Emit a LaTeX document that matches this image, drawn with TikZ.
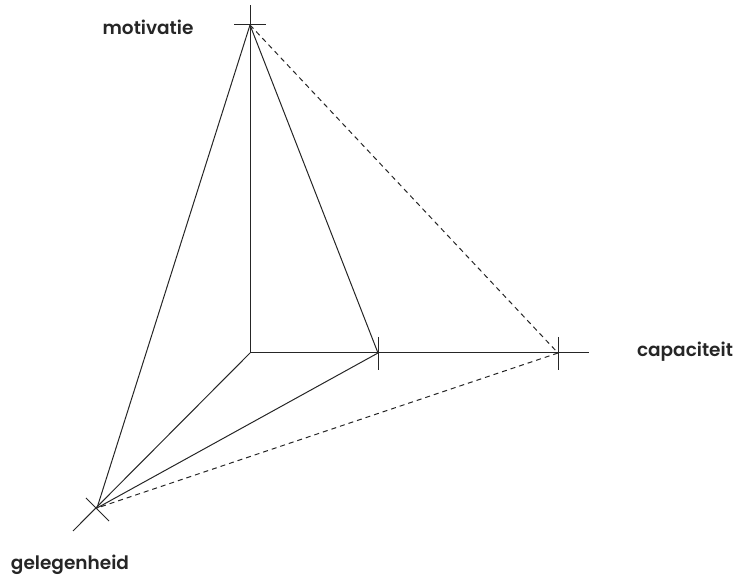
\documentclass[tikz,border=0pt]{standalone}
\usepackage{fontspec}
\setmainfont{Poppins}[BoldFont={* SemiBold}]
\begin{document}
\begin{tikzpicture}[x=1pt,y=-1pt,line width=1pt,color=black!85,
  lbl/.style={font=\bfseries\fontsize{18.5}{20}\selectfont,inner sep=0pt}]
  \useasboundingbox (0,0) rectangle (740,577);
  \coordinate (O) at (250,353);
  \coordinate (M) at (250,25);
  \coordinate (C1) at (378,353);
  \coordinate (C2) at (558,353);
  \coordinate (G) at (97,508);
  \coordinate (Mend) at (250,5);
  \coordinate (Cend) at (589,353);
  \coordinate (Gend) at (73,531);
  % axes
  \draw (O) -- (Mend);
  \draw (O) -- (Cend);
  \draw (O) -- (Gend);
  % ticks
  \draw (M) ++(-16,0) -- ++(32,0);
  \foreach \c in {C1,C2}{\draw (\c) ++(0,-16) -- ++(0,33);}
  \draw (G) ++(-11,-10) -- ++(23,23);
  % planes
  \draw (M) -- (G) -- (C1) -- (M);
  \draw[dashed,dash pattern=on 5pt off 4pt] (M) -- (C2) -- (G);
  % labels
  \node[lbl,anchor=base] (motivatie) at (148,35) {motivatie};
  \node[lbl,anchor=base] (capaciteit) at (685,357) {capaciteit};
  \node[lbl,anchor=base] (gelegenheid) at (70,569) {gelegenheid};
\end{tikzpicture}
\end{document}
